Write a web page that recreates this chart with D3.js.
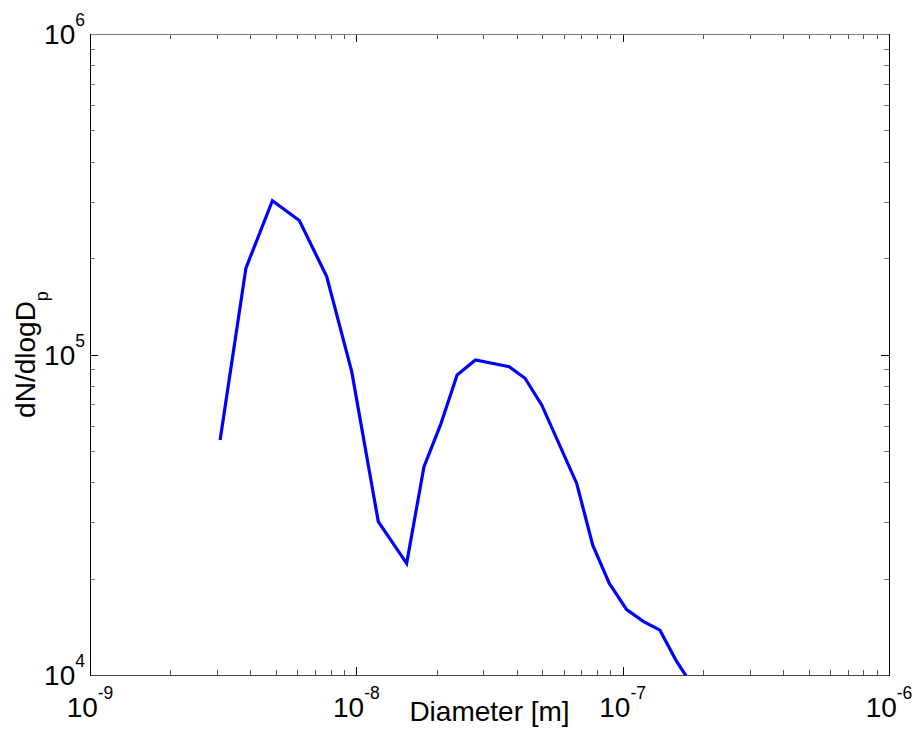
<!DOCTYPE html>
<html>
<head>
<meta charset="utf-8">
<script src="https://cdn.jsdelivr.net/npm/d3@7"></script>
<style>
  html, body { margin: 0; padding: 0; background: #fff; }
  svg { display: block; }
  text { font-family: "Liberation Sans", Arial, Helvetica, sans-serif; fill: #000; }
</style>
</head>
<body>
<svg id="chart" width="922" height="731"></svg>
<script>
// Particle diameter [m]
const diameters = [3.08e-9, 3.85e-9, 4.84e-9, 6.11e-9, 7.74e-9, 9.61e-9, 1.209e-8, 1.545e-8,
  1.795e-8, 2.07e-8, 2.39e-8, 2.80e-8, 3.75e-8, 4.30e-8, 4.97e-8, 6.72e-8, 7.72e-8,
  8.91e-8, 1.035e-7, 1.195e-7, 1.38e-7, 1.596e-7, 1.84e-7];
// dN/dlogDp
const concentrations = [5.41e4, 1.86e5, 3.02e5, 2.62e5, 1.75e5, 8.84e4, 3.01e4, 2.23e4,
  4.47e4, 6.03e4, 8.63e4, 9.62e4, 9.16e4, 8.43e4, 6.95e4, 3.96e4, 2.54e4,
  1.93e4, 1.60e4, 1.47e4, 1.38e4, 1.10e4, 9.2e3];
const xTickExps = [-9, -8, -7, -6];
const yTickExps = [4, 5, 6];

const svg = d3.select("#chart");
const L = 90, R = 889, T = 34, B = 675;

const x = d3.scaleLog().domain([1e-9, 1e-6]).range([L, R]);
const y = d3.scaleLog().domain([1e4, 1e6]).range([B, T]);

// minor tick values
const xMinor = [], yMinor = [];
for (let e = -9; e < -6; e++) for (let m = 2; m <= 9; m++) xMinor.push(m * Math.pow(10, e));
for (let e = 4; e < 6; e++) for (let m = 2; m <= 9; m++) yMinor.push(m * Math.pow(10, e));
const xMajor = xTickExps.map(e => Math.pow(10, e));
const yMajor = yTickExps.map(e => Math.pow(10, e));

// clip for data line
svg.append("clipPath").attr("id", "clip")
  .append("rect").attr("x", L).attr("y", T).attr("width", R - L).attr("height", B - T);

// data line
const line = d3.line().x((d, i) => x(diameters[i])).y((d, i) => y(concentrations[i]));
svg.append("path")
  .datum(concentrations)
  .attr("clip-path", "url(#clip)")
  .attr("fill", "none")
  .attr("stroke", "#0000ff")
  .attr("stroke-width", 3.2)
  .attr("stroke-linejoin", "miter")
  .attr("d", line);

// ticks (inward) on all four sides
const g = svg.append("g").attr("shape-rendering", "crispEdges");
const majLen = 8, minLen = 5;
function xt(vals, len, col) {
  vals.forEach(v => {
    const px = Math.round(x(v)) + 0.5;
    g.append("line").attr("x1", px).attr("x2", px).attr("y1", B).attr("y2", B - len).attr("stroke", col);
    g.append("line").attr("x1", px).attr("x2", px).attr("y1", T).attr("y2", T + len).attr("stroke", col);
  });
}
function yt(vals, len, col) {
  vals.forEach(v => {
    const py = Math.round(y(v)) + 0.5;
    g.append("line").attr("x1", L).attr("x2", L + len).attr("y1", py).attr("y2", py).attr("stroke", col);
    g.append("line").attr("x1", R).attr("x2", R - len).attr("y1", py).attr("y2", py).attr("stroke", col);
  });
}
xt(xMinor, minLen, "#555");
yt(yMinor, minLen, "#777");
xt(xMajor, majLen, "#000");
yt(yMajor, majLen, "#000");

// frame
g.append("line").attr("x1", L).attr("x2", R + 1).attr("y1", T + 0.5).attr("y2", T + 0.5).attr("stroke", "#808080");
g.append("line").attr("x1", L).attr("x2", R + 1).attr("y1", B + 0.5).attr("y2", B + 0.5).attr("stroke", "#444");
g.append("line").attr("x1", L + 0.5).attr("x2", L + 0.5).attr("y1", T).attr("y2", B + 1).attr("stroke", "#000");
g.append("line").attr("x1", R + 0.5).attr("x2", R + 0.5).attr("y1", T).attr("y2", B + 1).attr("stroke", "#000");

// tick labels
const FS = 28, EXP = 17.5;
xTickExps.forEach(e => {
  const t = svg.append("text")
    .attr("x", x(Math.pow(10, e)))
    .attr("y", 716.5)
    .attr("text-anchor", "middle")
    .style("font-size", FS + "px");
  t.append("tspan").text("10");
  t.append("tspan").attr("dy", -18).style("font-size", EXP + "px").text(String(e));
});
yTickExps.forEach(e => {
  const t = svg.append("text")
    .attr("x", 85)
    .attr("y", y(Math.pow(10, e)) + 10)
    .attr("text-anchor", "end")
    .style("font-size", FS + "px");
  t.append("tspan").text("10");
  t.append("tspan").attr("dy", -18).style("font-size", EXP + "px").text(String(e));
});

// axis labels
svg.append("text")
  .attr("x", (L + R) / 2)
  .attr("y", 721)
  .attr("text-anchor", "middle")
  .style("font-size", FS + "px")
  .text("Diameter [m]");

const yl = svg.append("text")
  .attr("transform", `translate(35,${(T + B) / 2}) rotate(-90)`)
  .attr("text-anchor", "middle")
  .style("font-size", FS + "px");
yl.append("tspan").text("dN/dlogD");
yl.append("tspan").attr("dy", 13).style("font-size", "18px").text("p");
</script>
</body>
</html>
